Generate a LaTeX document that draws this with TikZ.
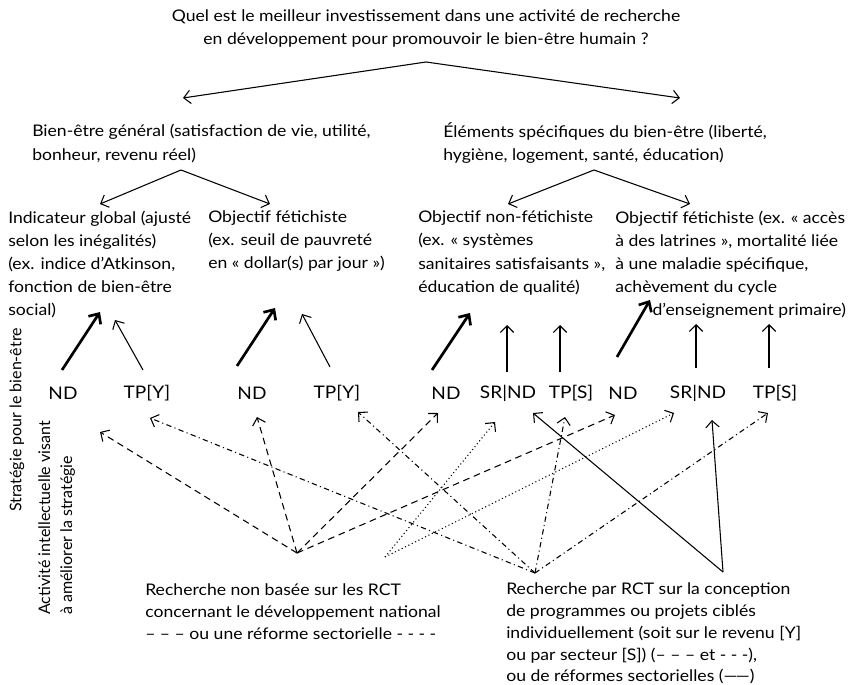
\documentclass[tikz,border=0pt]{standalone}
\usepackage{fontspec}
\setmainfont[FakeStretch=1.1]{Lato}
\newfontfamily\plainfont{Lato}
\usetikzlibrary{arrows.meta}

\begin{document}
\begin{tikzpicture}[x=0.75pt,y=-0.75pt,
  txt/.style={anchor=west,align=left,inner sep=0pt,font=\fontsize{12}{17.3}\selectfont},
  src/.style={txt,font=\fontsize{12}{16.4}\selectfont},
  lbl/.style={inner sep=0pt,font=\fontsize{13}{15}\selectfont},
  tip/.style={-{Straight Barb[length=5pt,width=10pt]},line width=0.8pt},
  fat/.style={-{Straight Barb[length=6pt,width=11pt]},line width=2pt},
  nrct/.style={tip,dash pattern=on 5pt off 3.5pt},
  nrsec/.style={tip,dash pattern=on 0.8pt off 2pt},
  rct/.style={tip,dash pattern=on 4pt off 2.5pt on 0.8pt off 2.5pt}]
\useasboundingbox (0,0) rectangle (853,685);

\node[txt,anchor=center,align=center] (q) at (426,28.5) {Quel est le meilleur investissement dans une activité de recherche\\en développement pour promouvoir le bien-être humain ?};
\node[txt] (gen) at (32,143.5) {Bien-être général (satisfaction de vie, utilité,\\bonheur, revenu réel)};
\node[txt] (spec) at (443,143.5) {Éléments spécifiques du bien-être (liberté,\\hygiène, logement, santé, éducation)};

\node[txt] (o_1) at (8,264.5) {Indicateur global (ajusté\\selon les inégalités)\\(ex. indice d’Atkinson,\\fonction de bien-être\\social)};
\node[txt] (o_2) at (208,241) {Objectif fétichiste\\(ex. seuil de pauvreté\\en « dollar(s) par jour »)};
\node[txt] (o_3) at (418,253) {Objectif non-fétichiste\\(ex. « systèmes\\sanitaires satisfaisants »,\\éducation de qualité)};
\node[txt] (o_4) at (615,264.5) {Objectif fétichiste (ex. « accès\\à des latrines », mortalité liée\\à une maladie spécifique,\\achèvement du cycle\\\hspace*{28pt}d’enseignement primaire)};

\coordinate (top) at (426,62);
\coordinate (left) at (181,170);
\coordinate (right) at (594,170);
\draw[tip] (top) -- (183,98);
\draw[tip] (top) -- (680,98);
\draw[tip] (left) -- (100,204);
\draw[tip] (left) -- (270,204);
\draw[tip] (right) -- (508,204);
\draw[tip] (right) -- (690,204);

\node[lbl,font=\plainfont\fontsize{12}{14}\selectfont,rotate=90] (strat) at (17,420) {Stratégie pour le bien-être};
\node[txt,font=\plainfont\fontsize{12}{16.5}\selectfont,rotate=90,anchor=north west] (act) at (38,615) {Activité intellectuelle visant\\à améliorer la stratégie};

\foreach \x/\t [count=\i] in {63/ND,147/{TP[Y]},252/ND,337/{TP[Y]},446/ND,508/{SR|ND},571/{TP[S]},623/ND,698/{SR|ND},775/{TP[S]}}
  \node[lbl] (s_\i) at (\x,393) {\t};

\foreach \i/\dx/\dy/\tx/\ty in {1/-1/-23/100/312,3/-15/-27/275/308,5/-14/-23/470/313,8/-6/-36/650/300}
  \draw[fat] ([shift={(\dx,\dy)}]s_\i.center) -- (\tx,\ty);
\foreach \i/\dx/\dy/\tx/\ty in {2/-4/-23/115/320,4/-7/-26/302/314,6/-1/-21/507/325,7/-11/-21/560/325,9/-2/-25/696/324,10/-6/-25/769/324}
  \draw[tip] ([shift={(\dx,\dy)}]s_\i.center) -- (\tx,\ty);

\coordinate (nrA) at (297,553);
\coordinate (nrD) at (385,557);
\coordinate (rctB) at (535,573);
\coordinate (rctC) at (723,572);

\foreach \i/\dx/\dy in {1/37/39,3/5/24,5/-8/20,8/-8/22}
  \draw[nrct] (nrA) -- ([shift={(\dx,\dy)}]s_\i.center);
\foreach \i/\dx/\dy in {6/-13/29,9/-24/20}
  \draw[nrsec] (nrD) -- ([shift={(\dx,\dy)}]s_\i.center);
\foreach \i/\dx/\dy in {2/3/25,4/21/19,7/-6/24,10/-7/20}
  \draw[rct] (rctB) -- ([shift={(\dx,\dy)}]s_\i.center);
\foreach \i/\dx/\dy in {6/25/20,9/14/27}
  \draw[tip] (rctC) -- ([shift={(\dx,\dy)}]s_\i.center);

\node[src] (nonrct) at (145,612) {Recherche non basée sur les RCT\\concernant le développement national\\– – – ou une réforme sectorielle - - - -};
\node[src] (withrct) at (506,633.5) {Recherche par RCT sur la conception\\de programmes ou projets ciblés\\individuellement (soit sur le revenu [Y]\\ou par secteur [S]) (– – – et - - -),\\ou de réformes sectorielles (—\kern-0.1em—)};
\end{tikzpicture}
\end{document}
